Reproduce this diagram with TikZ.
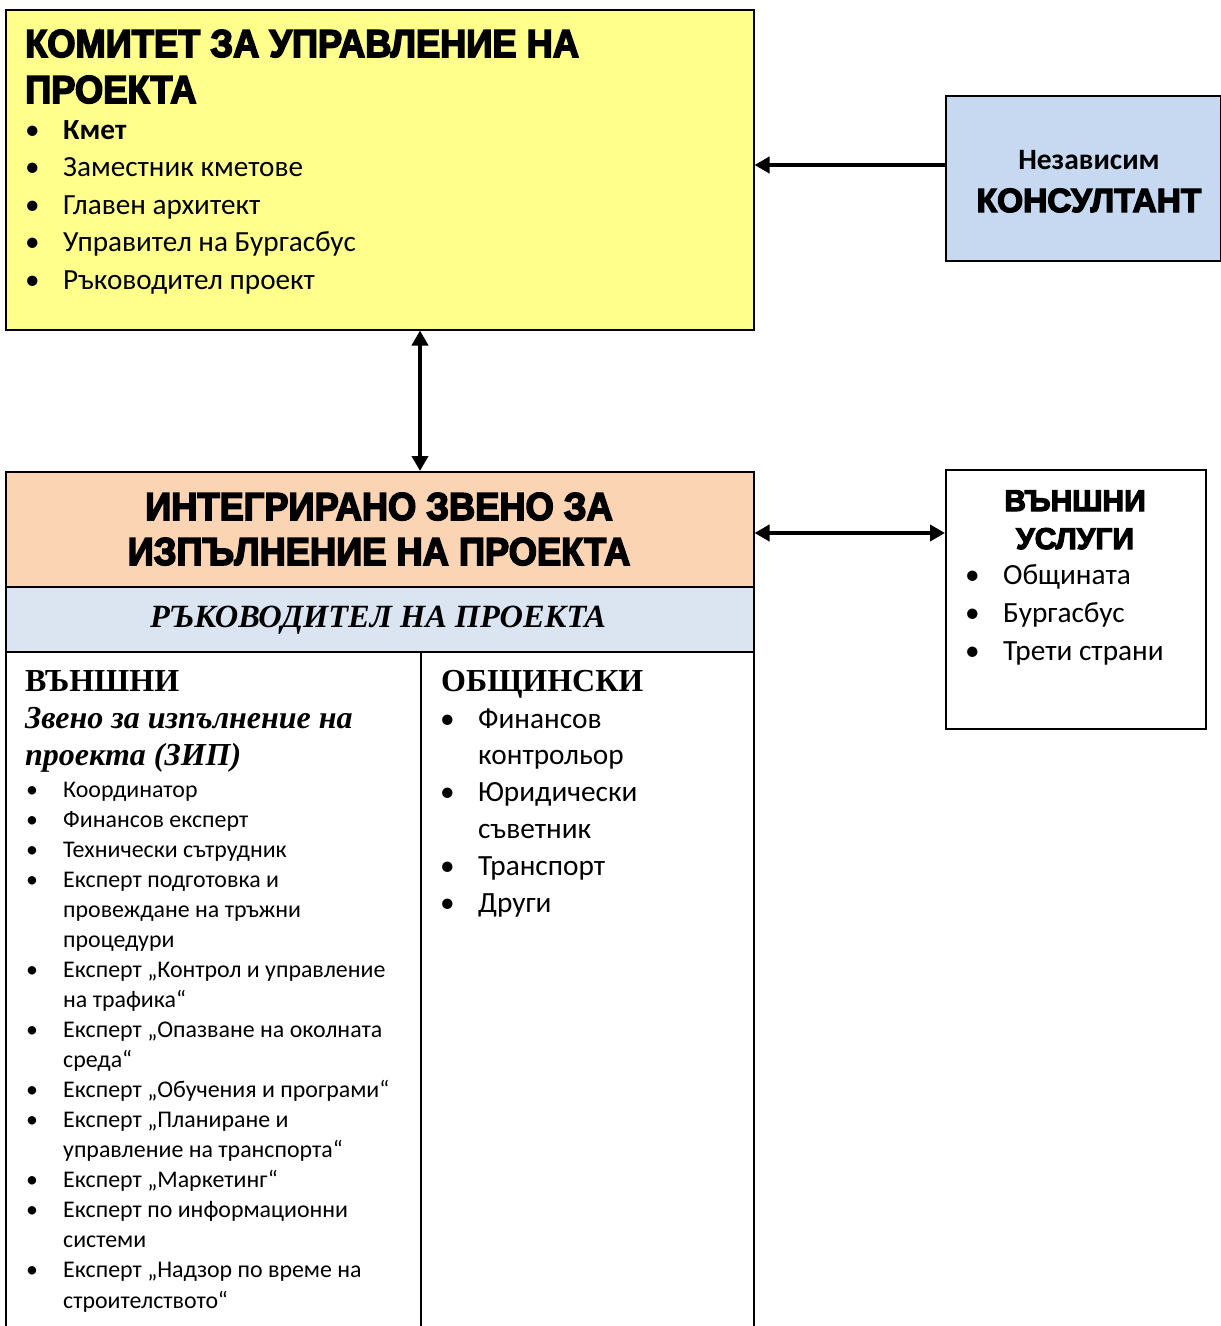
\documentclass[tikz,border=0pt]{standalone}
\usepackage{fontspec}
\setmainfont{Carlito}
\newfontfamily\heavyfont{Liberation Sans}[BoldFeatures={FakeBold=4}]
\newfontfamily\heavynarrow{Liberation Sans}[FakeStretch=0.93,BoldFeatures={FakeBold=4}]
\newfontfamily\timesfont{Liberation Serif}
\usetikzlibrary{arrows.meta}

\definecolor{komyellow}{RGB}{255,255,140}
\definecolor{konsblue}{RGB}{198,217,241}
\definecolor{izporange}{RGB}{251,212,180}
\definecolor{rukblue}{RGB}{219,229,241}
\newcommand{\bul}{\textbullet}

\begin{document}
\begin{tikzpicture}[x=1pt, y=-1pt,
    box/.style={draw, line width=1.5pt, anchor=north west, inner sep=0pt},
    txt/.style={anchor=base west, inner sep=0pt},
    ctxt/.style={anchor=base, inner sep=0pt},
    link/.style={line width=4pt, -{Triangle[length=15pt,width=16pt]}},
    dbllink/.style={line width=4pt, {Triangle[length=15pt,width=16pt]}-{Triangle[length=15pt,width=16pt]}}
  ]
  \useasboundingbox (0,0) rectangle (1221,1326);
  \clip (0,0) rectangle (1221,1326);

  % Boxes
  \node[box, fill=komyellow, minimum width=748pt, minimum height=320pt] (komitet) at (5,9) {};
  \node[box, fill=konsblue, minimum width=275pt, minimum height=165pt] (kons) at (945,95) {};
  \node[box, fill=izporange, minimum width=748pt, minimum height=115pt] (izp) at (5,471) {};
  \node[box, fill=rukblue, minimum width=748pt, minimum height=65pt] (ruk) at (5,586) {};
  \node[box, minimum width=415pt, minimum height=720pt] (vunshni) at (5,651) {};
  \node[box, minimum width=333pt, minimum height=720pt] (obshtinski) at (420,651) {};
  \node[box, minimum width=260pt, minimum height=259pt] (uslugi) at (945,469) {};

  % Committee
  \node[txt] (komitettitle) at (25,57) {\heavynarrow\bfseries\fontsize{39}{46}\selectfont
    \begin{tabular}[t]{@{}l@{}}КОМИТЕТ ЗА УПРАВЛЕНИЕ НА\\ПРОЕКТА\end{tabular}};
  \node[txt] (komitetlist) at (25,139) {\fontsize{29.2}{37.5}\selectfont
    \begin{tabular}[t]{@{}p{38pt}@{}l@{}}
      \bul & \textbf{Кмет}\\
      \bul & Заместник кметове\\
      \bul & Главен архитект\\
      \bul & Управител на Бургасбус\\
      \bul & Ръководител проект
    \end{tabular}};

  % Consultant
  \node[ctxt] (konsname) at (1089,169) {\bfseries\fontsize{29.5}{32}\selectfont Независим};
  \node[ctxt] (konstitle) at (1089,212) {\heavyfont\bfseries\fontsize{33.5}{36}\selectfont КОНСУЛТАНТ};

  % Implementation unit
  \node[ctxt] (izptitle) at (379,520) {\heavynarrow\bfseries\fontsize{39}{45}\selectfont
    \begin{tabular}[t]{@{}c@{}}ИНТЕГРИРАНО ЗВЕНО ЗА\\ИЗПЪЛНЕНИЕ НА ПРОЕКТА\end{tabular}};
  \node[ctxt] (ruktitle) at (378,627) {\timesfont\bfseries\itshape\fontsize{32.4}{38}\selectfont
    РЪКОВОДИТЕЛ НА ПРОЕКТА};

  % External unit
  \node[txt] (vunshnititle) at (25,691) {\timesfont\bfseries\fontsize{32}{37}\selectfont
    \begin{tabular}[t]{@{}l@{}}ВЪНШНИ\\\itshape Звено за изпълнение на\\\itshape проекта (ЗИП)\end{tabular}};
  \node[txt] (vunshnilist) at (26,797) {\fontsize{23.9}{30.06}\selectfont
    \begin{tabular}[t]{@{}p{37pt}@{}l@{}}
      \bul & Координатор\\
      \bul & Финансов експерт\\
      \bul & Технически сътрудник\\
      \bul & Експерт подготовка и\\
           & провеждане на тръжни\\
           & процедури\\
      \bul & Експерт „Контрол и управление\\
           & на трафика“\\
      \bul & Експерт „Опазване на околната\\
           & среда“\\
      \bul & Експерт „Обучения и програми“\\
      \bul & Експерт „Планиране и\\
           & управление на транспорта“\\
      \bul & Експерт „Маркетинг“\\
      \bul & Експерт по информационни\\
           & системи\\
      \bul & Експерт „Надзор по време на\\
           & строителството“
    \end{tabular}};

  % Municipal staff
  \node[txt] (obshtinskititle) at (441,691) {\timesfont\bfseries\fontsize{32}{37}\selectfont ОБЩИНСКИ};
  \node[txt] (obshtinskilist) at (440,728) {\fontsize{29.3}{36.8}\selectfont
    \begin{tabular}[t]{@{}p{38pt}@{}l@{}}
      \bul & Финансов\\
           & контрольор\\
      \bul & Юридически\\
           & съветник\\
      \bul & Транспорт\\
      \bul & Други
    \end{tabular}};

  % External services
  \node[ctxt] (uslugititle) at (1075,511) {\heavyfont\bfseries\fontsize{30}{38}\selectfont
    \begin{tabular}[t]{@{}c@{}}ВЪНШНИ\\УСЛУГИ\end{tabular}};
  \node[txt] (uslugilist) at (965,584) {\fontsize{29.3}{38}\selectfont
    \begin{tabular}[t]{@{}p{38pt}@{}l@{}}
      \bul & Общината\\
      \bul & Бургасбус\\
      \bul & Трети страни
    \end{tabular}};

  % Links
  \draw[link] (kons.west |- 0,165) -- (komitet.east |- 0,165);
  \draw[dbllink] (komitet.south -| 420,0) -- (izp.north -| 420,0);
  \draw[dbllink] (izp.east |- 0,533) -- (uslugi.west |- 0,533);
\end{tikzpicture}
\end{document}
